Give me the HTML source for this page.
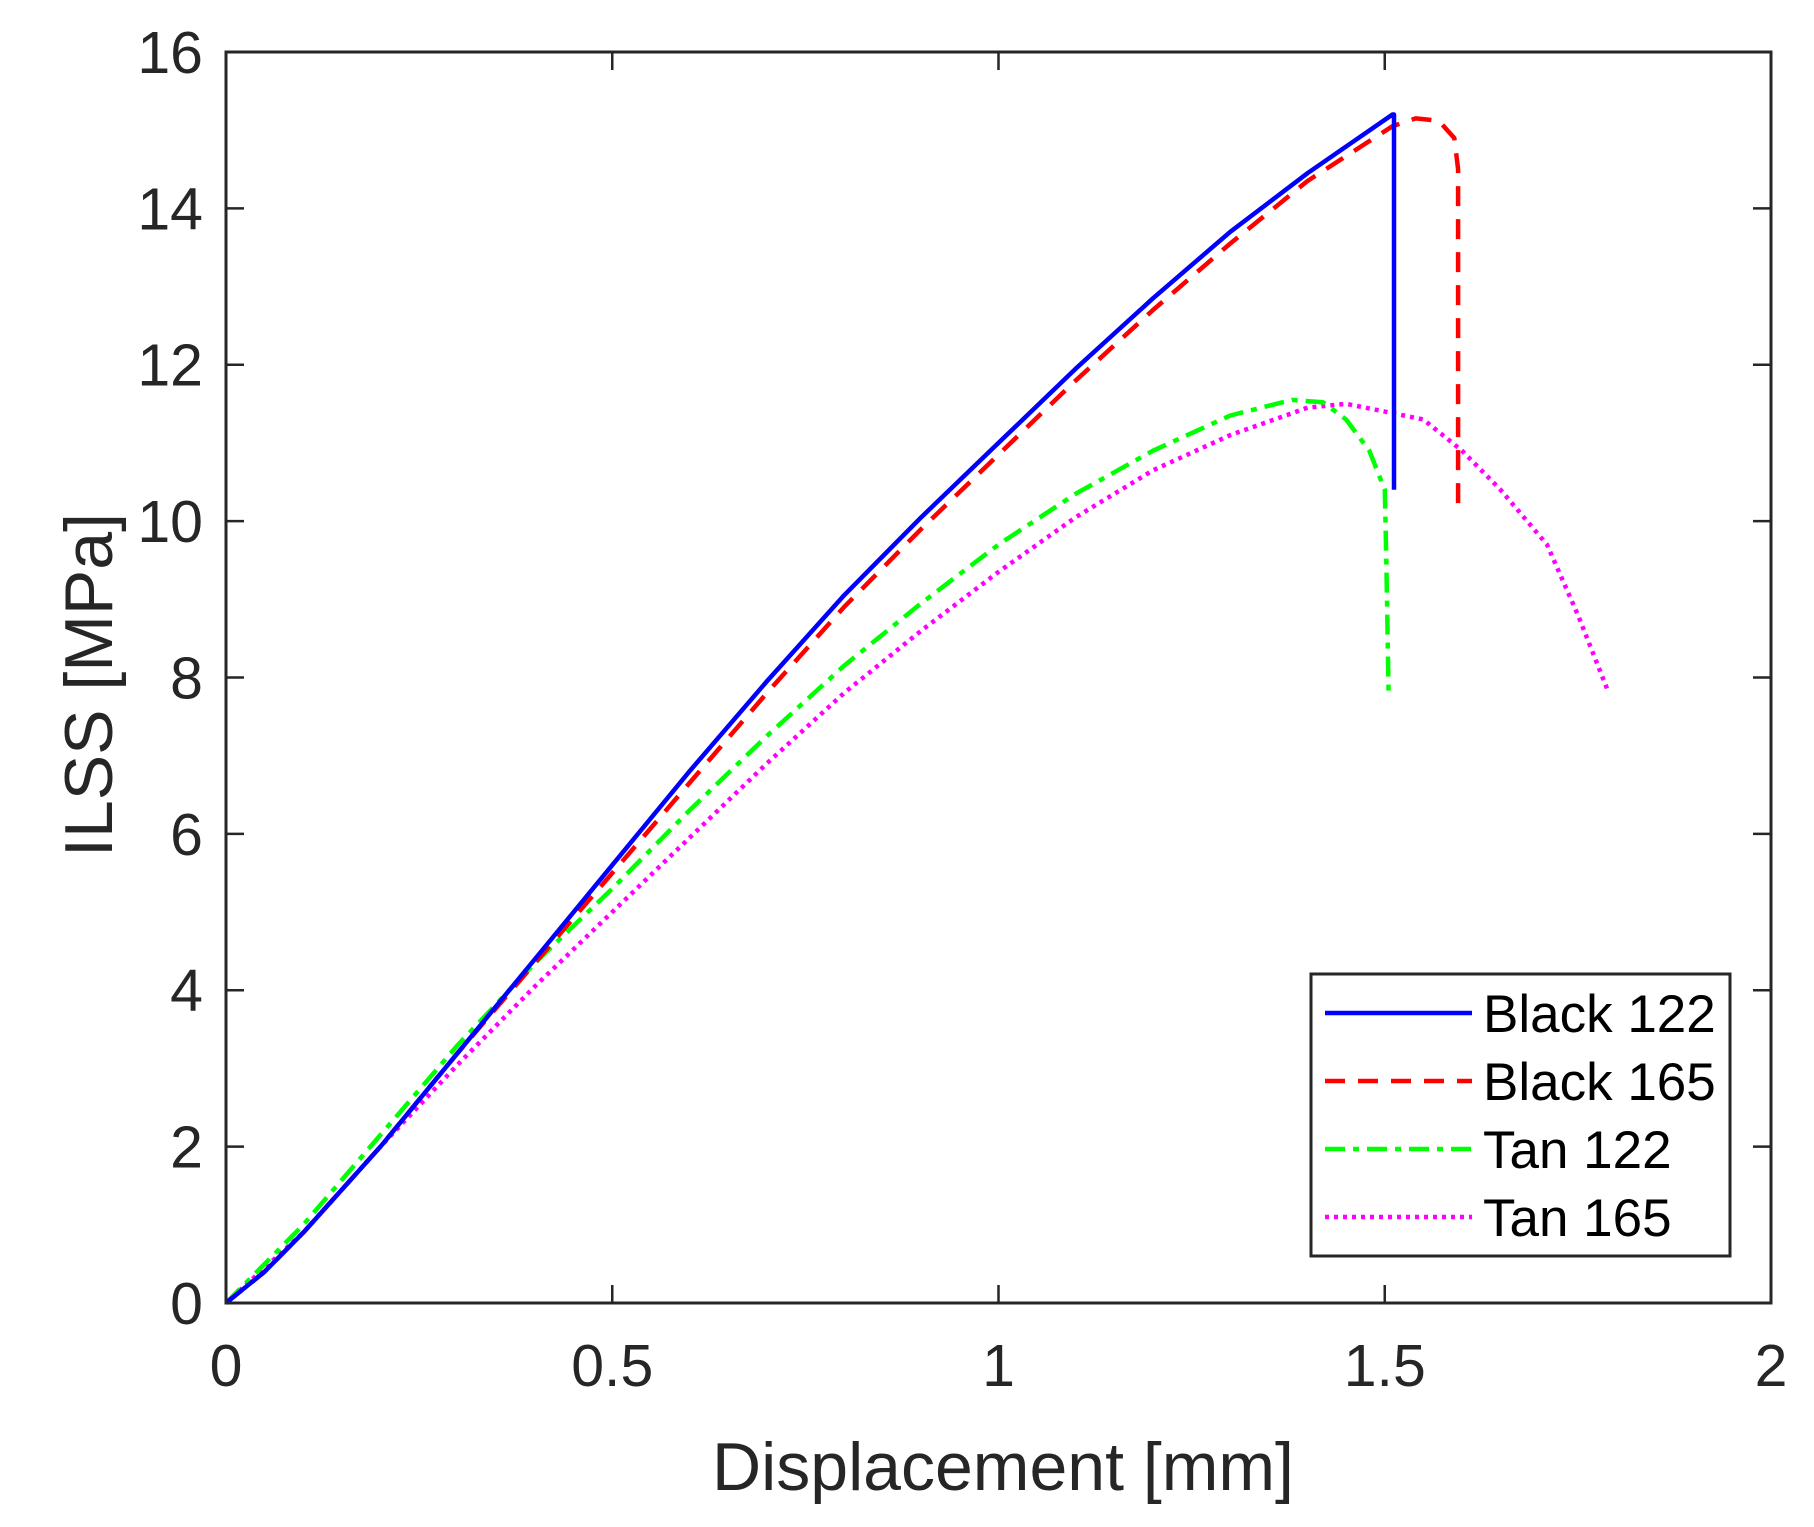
<!DOCTYPE html>
<html><head><meta charset="utf-8"><style>html,body{margin:0;padding:0;background:#fff}</style></head>
<body>
<svg width="1814" height="1522" xmlns="http://www.w3.org/2000/svg" font-family="Liberation Sans, Arial, sans-serif">
</svg>
<script>
const X=mm=>226+mm*772.5, Y=v=>1303-v*78.19;
const svg=document.querySelector('svg');
function el(t,a,txt){const e=document.createElementNS('http://www.w3.org/2000/svg',t);for(const k in a)e.setAttribute(k,a[k]);if(txt!==undefined)e.textContent=txt;svg.appendChild(e);return e;}
function pl(pts,a){el('polyline',Object.assign({points:pts.map(p=>X(p[0]).toFixed(1)+','+Y(p[1]).toFixed(1)).join(' '),fill:'none','stroke-width':4.5,'stroke-linejoin':'round'},a));}
for(let i=0;i<=8;i++){const y=Y(i*2);
 el('line',{x1:226,y1:y,x2:244,y2:y,stroke:'#262626','stroke-width':2.5});
 el('line',{x1:1753,y1:y,x2:1771,y2:y,stroke:'#262626','stroke-width':2.5});
 el('text',{x:203,y:y+21,'text-anchor':'end','font-size':59,fill:'#262626'},String(i*2));}
for(let i=0;i<=4;i++){const x=X(i*0.5);
 el('line',{x1:x,y1:1303,x2:x,y2:1285,stroke:'#262626','stroke-width':2.5});
 el('line',{x1:x,y1:52,x2:x,y2:70,stroke:'#262626','stroke-width':2.5});
 el('text',{x:x,y:1386,'text-anchor':'middle','font-size':59,fill:'#262626'},String(i*0.5));}
el('text',{x:1003,y:1490,'text-anchor':'middle','font-size':68,fill:'#262626'},'Displacement [mm]');
el('text',{x:0,y:0,transform:'translate(112,685) rotate(-90)','text-anchor':'middle','font-size':68,fill:'#262626'},'ILSS [MPa]');
const mag=[[0,0],[0.1,0.9],[0.2,2.0],[0.3,3.05],[0.4,4.05],[0.5,5.0],[0.6,5.95],[0.7,6.9],[0.8,7.8],[0.9,8.6],[1.0,9.35],[1.1,10.05],[1.2,10.65],[1.3,11.1],[1.4,11.45],[1.45,11.5],[1.5,11.4],[1.55,11.3],[1.6,10.9],[1.65,10.4],[1.71,9.7],[1.75,8.8],[1.79,7.8]];
const grn=[[0,0],[0.1,1.0],[0.2,2.15],[0.3,3.3],[0.4,4.35],[0.5,5.3],[0.6,6.3],[0.7,7.25],[0.8,8.15],[0.9,8.95],[1.0,9.7],[1.1,10.35],[1.2,10.9],[1.3,11.35],[1.38,11.55],[1.42,11.52],[1.45,11.3],[1.48,10.9],[1.5,10.4],[1.502,9.5],[1.505,7.8]];
const red=[[0,0],[0.05,0.4],[0.1,0.9],[0.15,1.45],[0.2,2.0],[0.25,2.6],[0.3,3.2],[0.4,4.35],[0.5,5.5],[0.6,6.65],[0.7,7.8],[0.8,8.9],[0.9,9.9],[1.0,10.85],[1.1,11.8],[1.2,12.7],[1.3,13.55],[1.4,14.35],[1.51,15.05],[1.54,15.15],[1.57,15.12],[1.59,14.9],[1.595,14.5],[1.595,10.1]];
const blu=[[0,0],[0.05,0.4],[0.1,0.9],[0.15,1.45],[0.2,2.0],[0.25,2.6],[0.3,3.2],[0.4,4.4],[0.5,5.6],[0.6,6.8],[0.7,7.95],[0.8,9.05],[0.9,10.05],[1.0,11.0],[1.1,11.95],[1.2,12.85],[1.3,13.7],[1.4,14.45],[1.51,15.2],[1.512,15.2],[1.512,10.4]];
pl(mag,{stroke:'#ff00ff','stroke-dasharray':'4 5'});
pl(grn,{stroke:'#00ff00','stroke-dasharray':'20 8 6 8'});
pl(red,{stroke:'#ff0000','stroke-dasharray':'20 13'});
pl(blu,{stroke:'#0000ff'});
el('rect',{x:226,y:52,width:1545,height:1251,fill:'none',stroke:'#262626','stroke-width':3});
el('rect',{x:1311,y:974,width:419,height:282,fill:'#fff',stroke:'#262626','stroke-width':3});
const L=[['Black 122','#0000ff',''],['Black 165','#ff0000','20 13'],['Tan 122','#00ff00','20 8 6 8'],['Tan 165','#ff00ff','4 5']];
L.forEach((l,i)=>{const y=1013+i*68;
 const a={x1:1325,y1:y,x2:1472,y2:y,stroke:l[1],'stroke-width':4.5};if(l[2])a['stroke-dasharray']=l[2];el('line',a);
 el('text',{x:1483,y:y+19,'font-size':53,fill:'#000'},l[0]);});
</script>
</body></html>
